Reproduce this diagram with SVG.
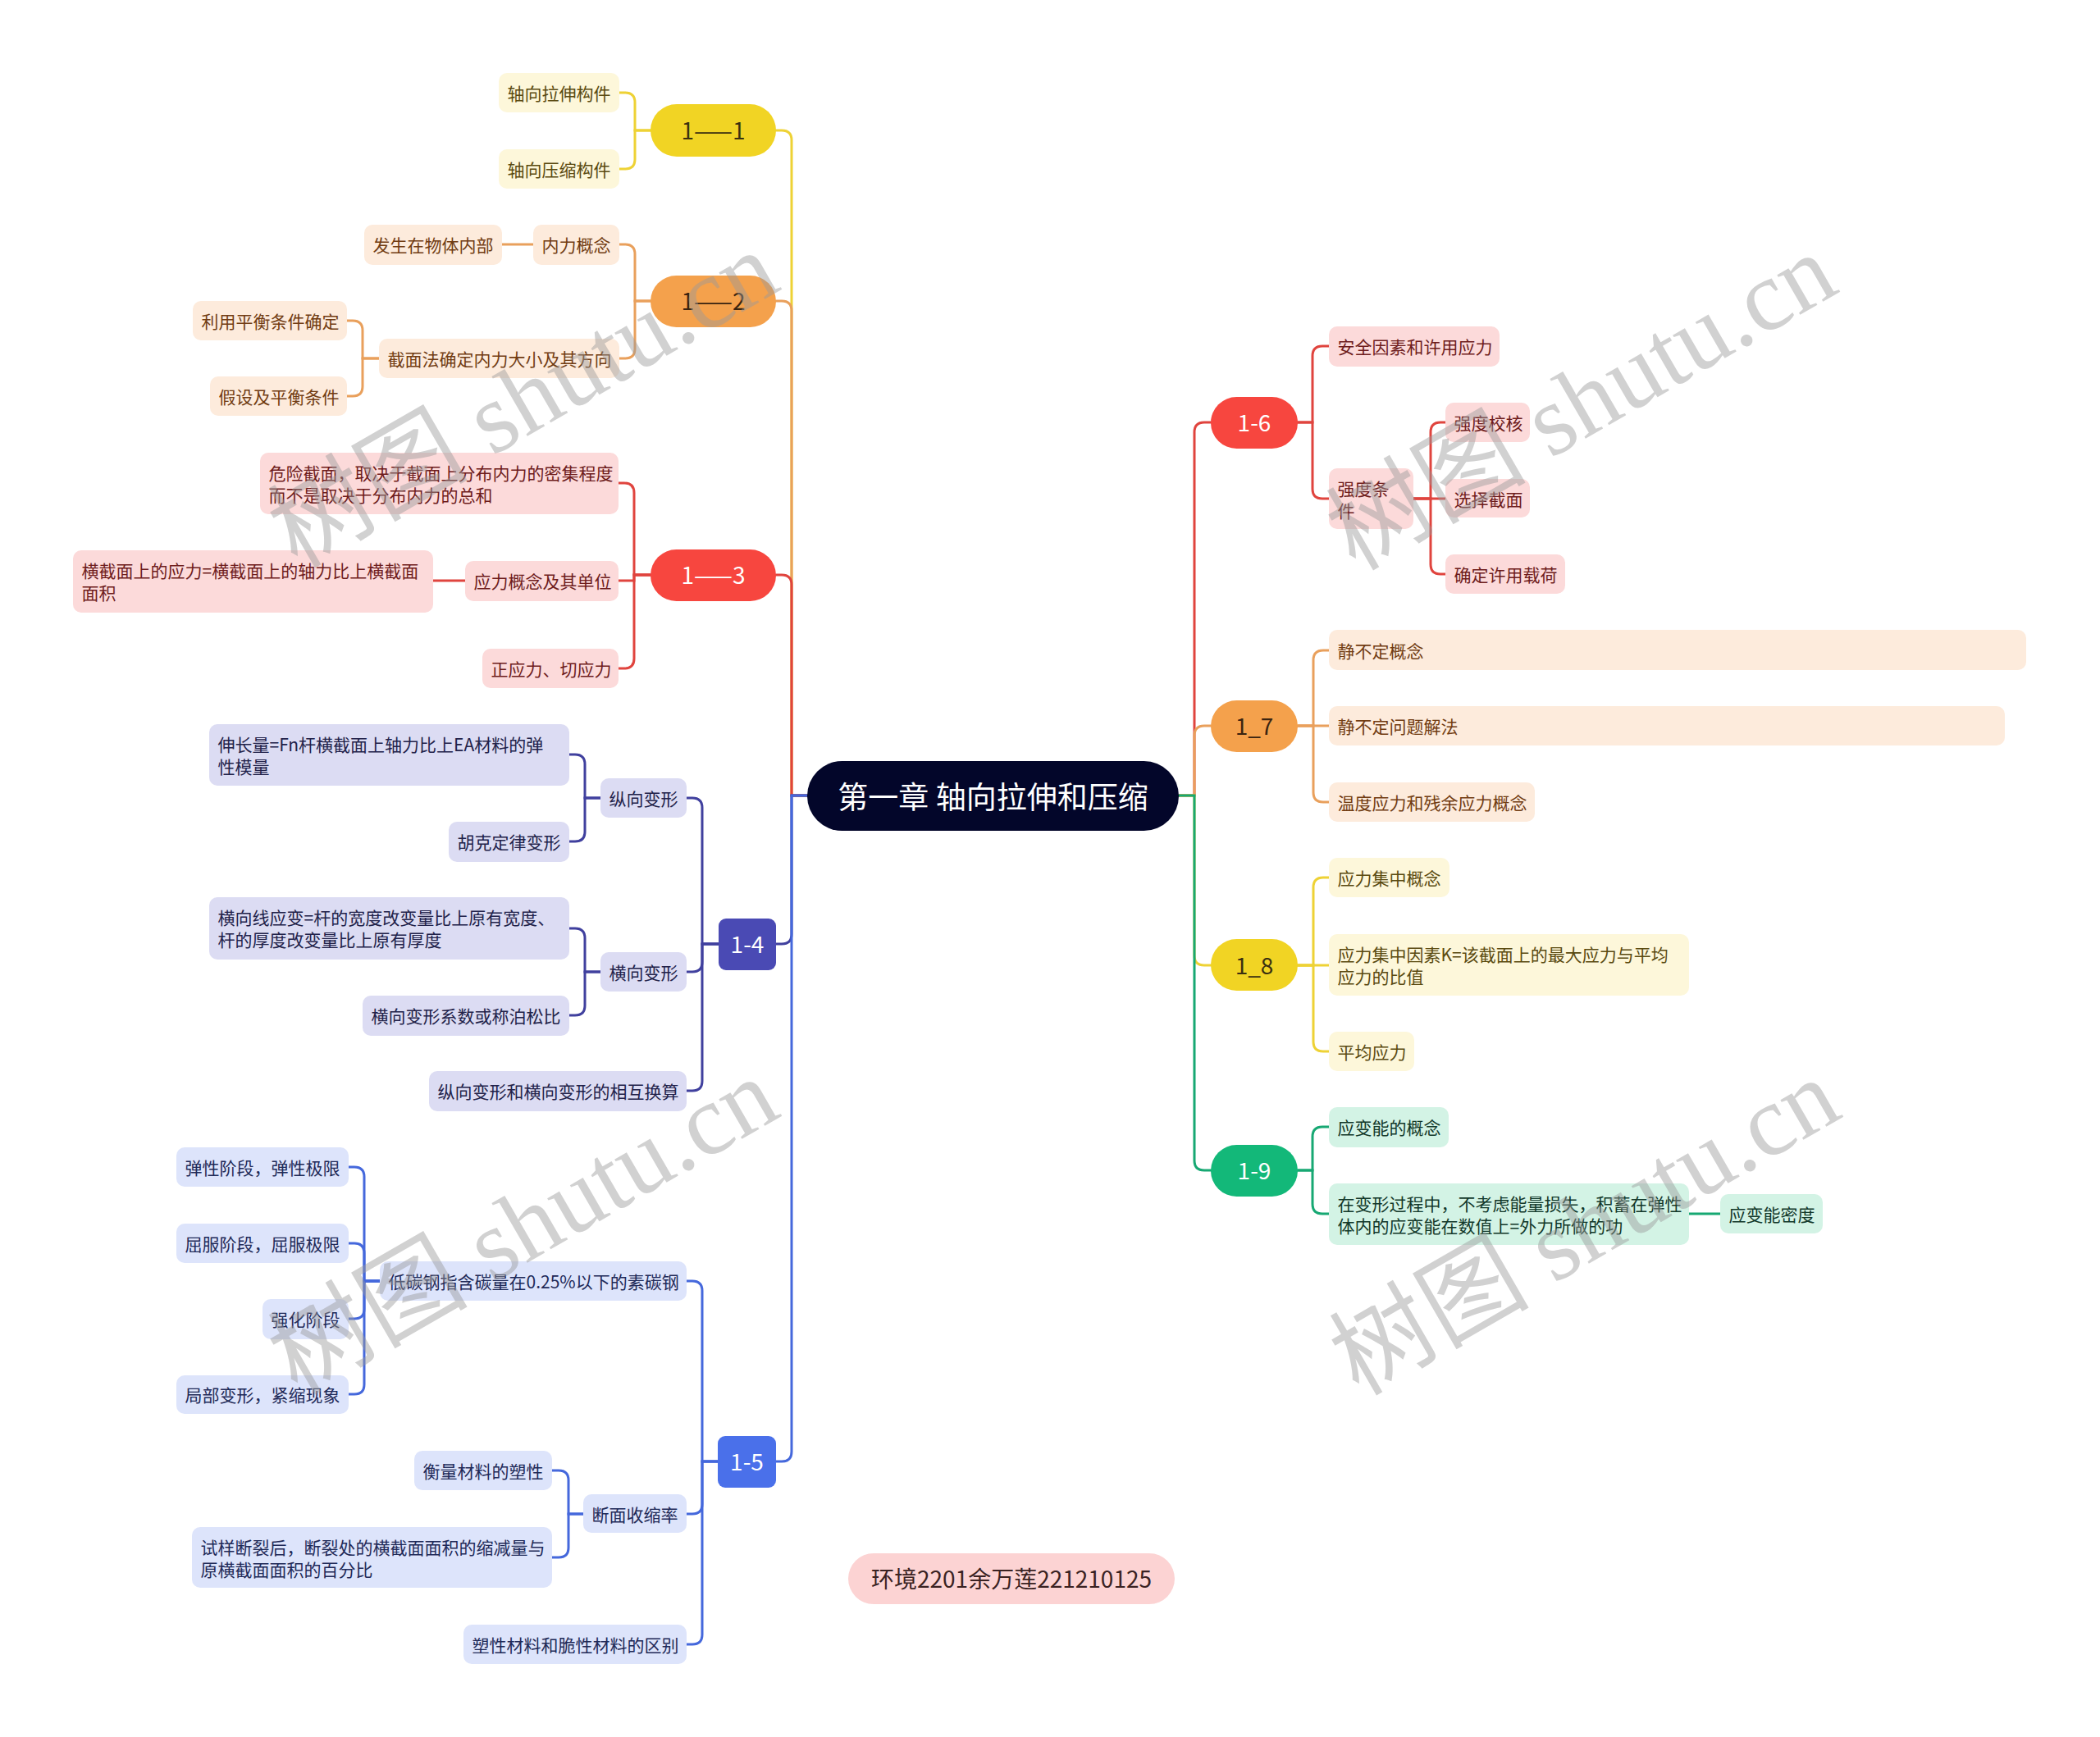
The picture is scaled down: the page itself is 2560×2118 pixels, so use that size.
<svg xmlns="http://www.w3.org/2000/svg" width="2560" height="2118" viewBox="0 0 2560 2118">
<style>
text{font-family:"Noto Sans CJK SC","Liberation Sans",sans-serif;dominant-baseline:central}
.s{font-size:21px}
.m{font-size:28px;text-anchor:middle}
.c{fill:none;stroke-width:3;stroke-linecap:round}
.cy{stroke:#eed235}.co{stroke:#e9a05c}.cr{stroke:#e0443e}.cp{stroke:#40409e}.cb{stroke:#4568dc}.cg{stroke:#17a873}
.fy{fill:#fdf7da}.fo{fill:#fdebdc}.fr{fill:#fcdada}.fp{fill:#dcdcf3}.fb{fill:#dde4fb}.fg{fill:#d3f3e5}
.ty{fill:#5a4a10}.to{fill:#713c12}.tr{fill:#6e1c1c}.tp{fill:#22224a}.tb{fill:#1f2a58}.tg{fill:#12382a}
.wm{font-family:"Liberation Serif","Noto Sans CJK SC",serif;font-size:122px;fill:#9a9a9a;opacity:0.45;dominant-baseline:auto}
</style>
<rect width="2560" height="2118" fill="#ffffff"/>
<g id="connectors">
<path class="c cy" d="M984 970 H965 V171 Q965 159 953 159 H946"/>
<path class="c co" d="M984 970 H965 V379 Q965 367 953 367 H946"/>
<path class="c cr" d="M984 970 H965 V713 Q965 701 953 701 H946"/>
<path class="c cp" d="M984 970 H965 V1139 Q965 1151 953 1151 H946"/>
<path class="c cb" d="M984 970 H965 V1770 Q965 1782 953 1782 H946"/>
<path class="c cr" d="M1437 970 H1456 V527 Q1456 515 1468 515 H1476"/>
<path class="c co" d="M1437 970 H1456 V897 Q1456 885 1468 885 H1476"/>
<path class="c cy" d="M1437 970 H1456 V1165 Q1456 1177 1468 1177 H1476"/>
<path class="c cg" d="M1437 970 H1456 V1415 Q1456 1427 1468 1427 H1476"/>
<path class="c cy" d="M793 159 H774 V125 Q774 113 762 113 H755"/>
<path class="c cy" d="M793 159 H774 V194 Q774 206 762 206 H755"/>
<path class="c co" d="M793 367 H774 V310 Q774 298 762 298 H755"/>
<path class="c co" d="M793 367 H774 V425 Q774 437 762 437 H755"/>
<path class="c co" d="M650 298 H612"/>
<path class="c co" d="M462 437 H442 V403 Q442 391 430 391 H423"/>
<path class="c co" d="M462 437 H442 V471 Q442 483 430 483 H423"/>
<path class="c cr" d="M793 701 H773 V601 Q773 589 761 589 H754"/>
<path class="c cr" d="M793 701 H773 V708 H754"/>
<path class="c cr" d="M793 701 H773 V803 Q773 815 761 815 H754"/>
<path class="c cr" d="M567 708 H528"/>
<path class="c cp" d="M876 1151 H856 V985 Q856 973 844 973 H837"/>
<path class="c cp" d="M876 1151 H856 V1173 Q856 1185 844 1185 H837"/>
<path class="c cp" d="M876 1151 H856 V1318 Q856 1330 844 1330 H837"/>
<path class="c cp" d="M732 973 H713 V932 Q713 920 701 920 H694"/>
<path class="c cp" d="M732 973 H713 V1014 Q713 1026 701 1026 H694"/>
<path class="c cp" d="M732 1185 H713 V1144 Q713 1132 701 1132 H694"/>
<path class="c cp" d="M732 1185 H713 V1226 Q713 1238 701 1238 H694"/>
<path class="c cb" d="M875 1782 H856 V1574 Q856 1562 844 1562 H837"/>
<path class="c cb" d="M875 1782 H856 V1834 Q856 1846 844 1846 H837"/>
<path class="c cb" d="M875 1782 H856 V1993 Q856 2005 844 2005 H837"/>
<path class="c cb" d="M463 1562 H444 V1435 Q444 1423 432 1423 H425"/>
<path class="c cb" d="M463 1562 H444 V1528 Q444 1516 432 1516 H425"/>
<path class="c cb" d="M463 1562 H444 V1596 Q444 1608 432 1608 H425"/>
<path class="c cb" d="M463 1562 H444 V1688 Q444 1700 432 1700 H425"/>
<path class="c cb" d="M711 1846 H693 V1805 Q693 1793 681 1793 H673"/>
<path class="c cb" d="M711 1846 H693 V1887 Q693 1899 681 1899 H673"/>
<path class="c cr" d="M1582 515 H1600 V434 Q1600 422 1612 422 H1620"/>
<path class="c cr" d="M1582 515 H1600 V596 Q1600 608 1612 608 H1620"/>
<path class="c cr" d="M1723 608 H1744 V527 Q1744 515 1756 515 H1762"/>
<path class="c cr" d="M1723 608 H1762"/>
<path class="c cr" d="M1723 608 H1744 V688 Q1744 700 1756 700 H1762"/>
<path class="c co" d="M1582 885 H1601 V805 Q1601 793 1613 793 H1620"/>
<path class="c co" d="M1582 885 H1620"/>
<path class="c co" d="M1582 885 H1601 V966 Q1601 978 1613 978 H1620"/>
<path class="c cy" d="M1582 1177 H1601 V1082 Q1601 1070 1613 1070 H1620"/>
<path class="c cy" d="M1582 1177 H1620"/>
<path class="c cy" d="M1582 1177 H1601 V1270 Q1601 1282 1613 1282 H1620"/>
<path class="c cg" d="M1582 1427 H1600 V1386 Q1600 1374 1612 1374 H1620"/>
<path class="c cg" d="M1582 1427 H1600 V1468 Q1600 1480 1612 1480 H1620"/>
<path class="c cg" d="M2059 1480 H2097"/>
</g>
<g id="root"><rect x="984" y="928" width="453" height="85" rx="42.5" fill="#03062a"/><text x="1210.5" y="970" font-size="37" text-anchor="middle" fill="#ffffff">第一章 轴向拉伸和压缩</text></g>
<g id="n1-1"><rect x="793" y="127" width="153" height="64" rx="32" fill="#f1d424"/><text class="m" x="869.5" y="158" fill="#3a3010">1——1</text></g>
<g id="n1-1a"><rect class="fy" x="608" y="89" width="147" height="48" rx="10"/><text class="s ty" x="618.5" y="113">轴向拉伸构件</text></g>
<g id="n1-1b"><rect class="fy" x="608" y="182" width="147" height="48" rx="10"/><text class="s ty" x="618.5" y="206">轴向压缩构件</text></g>
<g id="n1-2"><rect x="793" y="336" width="153" height="63" rx="31.5" fill="#f4a14c"/><text class="m" x="869.5" y="366" fill="#3a2410">1——2</text></g>
<g id="n1-2a"><rect class="fo" x="650" y="274" width="105" height="49" rx="10"/><text class="s to" x="660.5" y="298">内力概念</text></g>
<g id="n1-2a1"><rect class="fo" x="444" y="274" width="168" height="49" rx="10"/><text class="s to" x="454.5" y="298">发生在物体内部</text></g>
<g id="n1-2b"><rect class="fo" x="462" y="413" width="293" height="48" rx="10"/><text class="s to" x="472.5" y="437">截面法确定内力大小及其方向</text></g>
<g id="n1-2b1"><rect class="fo" x="235" y="367" width="188" height="48" rx="10"/><text class="s to" x="245.5" y="391">利用平衡条件确定</text></g>
<g id="n1-2b2"><rect class="fo" x="256" y="459" width="167" height="48" rx="10"/><text class="s to" x="266.5" y="483">假设及平衡条件</text></g>
<g id="n1-3"><rect x="793" y="670" width="153" height="63" rx="31.5" fill="#f7463f"/><text class="m" x="869.5" y="700" fill="#ffffff">1——3</text></g>
<g id="n1-3a"><rect class="fr" x="317" y="552" width="437" height="75" rx="10"/><text class="s tr" x="327.5" y="576">危险截面，取决于截面上分布内力的密集程度</text><text class="s tr" x="327.5" y="603">而不是取决于分布内力的总和</text></g>
<g id="n1-3b"><rect class="fr" x="567" y="684" width="187" height="49" rx="10"/><text class="s tr" x="577.5" y="708">应力概念及其单位</text></g>
<g id="n1-3b1"><rect class="fr" x="89" y="671" width="439" height="76" rx="10"/><text class="s tr" x="99.5" y="695">横截面上的应力=横截面上的轴力比上横截面</text><text class="s tr" x="99.5" y="722">面积</text></g>
<g id="n1-3c"><rect class="fr" x="588" y="791" width="166" height="48" rx="10"/><text class="s tr" x="598.5" y="815">正应力、切应力</text></g>
<g id="n1-4"><rect x="876" y="1120" width="70" height="63" rx="9" fill="#4a4ab4"/><text class="m" x="911" y="1150" fill="#ffffff">1-4</text></g>
<g id="n1-4a"><rect class="fp" x="732" y="949" width="105" height="48" rx="10"/><text class="s tp" x="742.5" y="973">纵向变形</text></g>
<g id="n1-4a1"><rect class="fp" x="255" y="883" width="439" height="75" rx="10"/><text class="s tp" x="265.5" y="907">伸长量=Fn杆横截面上轴力比上EA材料的弹</text><text class="s tp" x="265.5" y="934">性模量</text></g>
<g id="n1-4a2"><rect class="fp" x="547" y="1002" width="147" height="49" rx="10"/><text class="s tp" x="557.5" y="1026">胡克定律变形</text></g>
<g id="n1-4b"><rect class="fp" x="732" y="1161" width="105" height="48" rx="10"/><text class="s tp" x="742.5" y="1185">横向变形</text></g>
<g id="n1-4b1"><rect class="fp" x="255" y="1094" width="439" height="76" rx="10"/><text class="s tp" x="265.5" y="1118">横向线应变=杆的宽度改变量比上原有宽度、</text><text class="s tp" x="265.5" y="1145">杆的厚度改变量比上原有厚度</text></g>
<g id="n1-4b2"><rect class="fp" x="442" y="1214" width="252" height="49" rx="10"/><text class="s tp" x="452.5" y="1238">横向变形系数或称泊松比</text></g>
<g id="n1-4c"><rect class="fp" x="523" y="1306" width="314" height="49" rx="10"/><text class="s tp" x="533.5" y="1330">纵向变形和横向变形的相互换算</text></g>
<g id="n1-5"><rect x="875" y="1751" width="71" height="63" rx="9" fill="#4a70ea"/><text class="m" x="910.5" y="1781" fill="#ffffff">1-5</text></g>
<g id="n1-5a"><rect class="fb" x="463" y="1538" width="374" height="48" rx="10"/><text class="s tb" x="473.5" y="1562">低碳钢指含碳量在0.25%以下的素碳钢</text></g>
<g id="n1-5a1"><rect class="fb" x="215" y="1399" width="210" height="48" rx="10"/><text class="s tb" x="225.5" y="1423">弹性阶段，弹性极限</text></g>
<g id="n1-5a2"><rect class="fb" x="215" y="1492" width="210" height="48" rx="10"/><text class="s tb" x="225.5" y="1516">屈服阶段，屈服极限</text></g>
<g id="n1-5a3"><rect class="fb" x="320" y="1584" width="105" height="49" rx="10"/><text class="s tb" x="330.5" y="1608">强化阶段</text></g>
<g id="n1-5a4"><rect class="fb" x="215" y="1677" width="210" height="47" rx="10"/><text class="s tb" x="225.5" y="1700">局部变形，紧缩现象</text></g>
<g id="n1-5b"><rect class="fb" x="711" y="1822" width="126" height="47" rx="10"/><text class="s tb" x="721.5" y="1846">断面收缩率</text></g>
<g id="n1-5b1"><rect class="fb" x="505" y="1769" width="168" height="48" rx="10"/><text class="s tb" x="515.5" y="1793">衡量材料的塑性</text></g>
<g id="n1-5b2"><rect class="fb" x="234" y="1862" width="439" height="74" rx="10"/><text class="s tb" x="244.5" y="1886">试样断裂后，断裂处的横截面面积的缩减量与</text><text class="s tb" x="244.5" y="1913">原横截面面积的百分比</text></g>
<g id="n1-5c"><rect class="fb" x="565" y="1981" width="272" height="48" rx="10"/><text class="s tb" x="575.5" y="2005">塑性材料和脆性材料的区别</text></g>
<g id="n1-6"><rect x="1476" y="484" width="106" height="63" rx="31.5" fill="#f7463f"/><text class="m" x="1529" y="514" fill="#ffffff">1-6</text></g>
<g id="n1-6a"><rect class="fr" x="1620" y="398" width="208" height="49" rx="10"/><text class="s tr" x="1630.5" y="422">安全因素和许用应力</text></g>
<g id="n1-6b"><rect class="fr" x="1620" y="571" width="103" height="74" rx="10"/><text class="s tr" x="1630.5" y="595">强度条</text><text class="s tr" x="1630.5" y="622">件</text></g>
<g id="n1-6b1"><rect class="fr" x="1762" y="491" width="103" height="48" rx="10"/><text class="s tr" x="1772.5" y="515">强度校核</text></g>
<g id="n1-6b2"><rect class="fr" x="1762" y="584" width="103" height="47" rx="10"/><text class="s tr" x="1772.5" y="608">选择截面</text></g>
<g id="n1-6b3"><rect class="fr" x="1762" y="676" width="146" height="48" rx="10"/><text class="s tr" x="1772.5" y="700">确定许用载荷</text></g>
<g id="n1-7"><rect x="1476" y="854" width="106" height="63" rx="31.5" fill="#f4a14c"/><text class="m" x="1529" y="884" fill="#3a2410">1_7</text></g>
<g id="n1-7a"><rect class="fo" x="1620" y="768" width="850" height="49" rx="10"/><text class="s to" x="1630.5" y="793">静不定概念</text></g>
<g id="n1-7b"><rect class="fo" x="1620" y="861" width="824" height="48" rx="10"/><text class="s to" x="1630.5" y="885">静不定问题解法</text></g>
<g id="n1-7c"><rect class="fo" x="1620" y="954" width="251" height="48" rx="10"/><text class="s to" x="1630.5" y="978">温度应力和残余应力概念</text></g>
<g id="n1-8"><rect x="1476" y="1145" width="106" height="63" rx="31.5" fill="#f1d424"/><text class="m" x="1529" y="1176" fill="#3a3010">1_8</text></g>
<g id="n1-8a"><rect class="fy" x="1620" y="1046" width="147" height="48" rx="10"/><text class="s ty" x="1630.5" y="1070">应力集中概念</text></g>
<g id="n1-8b"><rect class="fy" x="1620" y="1139" width="439" height="75" rx="10"/><text class="s ty" x="1630.5" y="1163">应力集中因素K=该截面上的最大应力与平均</text><text class="s ty" x="1630.5" y="1190">应力的比值</text></g>
<g id="n1-8c"><rect class="fy" x="1620" y="1258" width="104" height="48" rx="10"/><text class="s ty" x="1630.5" y="1282">平均应力</text></g>
<g id="n1-9"><rect x="1476" y="1396" width="106" height="63" rx="31.5" fill="#13b879"/><text class="m" x="1529" y="1426" fill="#ffffff">1-9</text></g>
<g id="n1-9a"><rect class="fg" x="1620" y="1350" width="146" height="49" rx="10"/><text class="s tg" x="1630.5" y="1374">应变能的概念</text></g>
<g id="n1-9b"><rect class="fg" x="1620" y="1443" width="439" height="75" rx="10"/><text class="s tg" x="1630.5" y="1467">在变形过程中，不考虑能量损失，积蓄在弹性</text><text class="s tg" x="1630.5" y="1494">体内的应变能在数值上=外力所做的功</text></g>
<g id="n1-9b1"><rect class="fg" x="2097" y="1456" width="125" height="48" rx="10"/><text class="s tg" x="2107.5" y="1480">应变能密度</text></g>
<g id="footer"><rect x="1034" y="1894" width="398" height="62" rx="31" fill="#fcd3d3"/><text x="1233" y="1924" font-size="28" text-anchor="middle" fill="#3a2222">环境2201余万莲221210125</text></g>
<g id="watermarks">
<text class="wm" transform="translate(362 694) rotate(-30)">树图 shutu.cn</text>
<text class="wm" transform="translate(1652 697) rotate(-30)">树图 shutu.cn</text>
<text class="wm" transform="translate(362 1702) rotate(-30)">树图 shutu.cn</text>
<text class="wm" transform="translate(1656 1703) rotate(-30)">树图 shutu.cn</text>
</g>
</svg>
